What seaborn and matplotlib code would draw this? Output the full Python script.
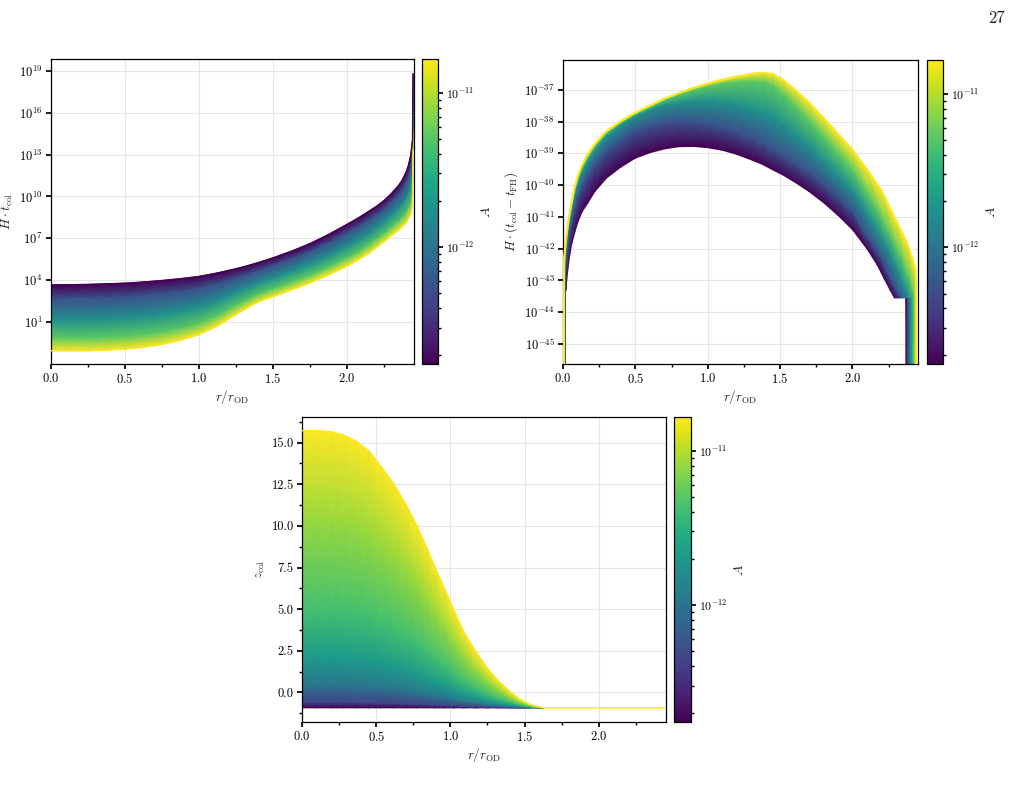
import numpy as np
import matplotlib
matplotlib.use('Agg')
import matplotlib.pyplot as plt
import matplotlib.ticker as mticker
from matplotlib.colors import LogNorm
import seaborn as sns

A_min, A_max = 1.74e-13, 1.66e-11
A_levels = [1.74e-13, 5.43e-13, 1.70e-12, 5.31e-12, 1.66e-11]
A_levels_z = [1.74e-13, 4.33e-13, 1.08e-12, 2.13e-12, 4.23e-12, 8.38e-12, 1.66e-11]
cbar_ticks = [1e-12, 1e-11]

# panel 1: log10(H * t_col) against r / r_OD, one row per A level (small A first)
r_tcol = [0, 0.125, 0.25, 0.375, 0.5, 0.625, 0.75, 0.875, 1.0, 1.125, 1.25, 1.325,
          1.4, 1.5, 1.625, 1.75, 1.875, 2.0, 2.075, 2.15, 2.2, 2.25, 2.3, 2.35,
          2.375, 2.40, 2.415, 2.43, 2.443, 2.447]
log_tcol = [
    [3.67, 3.68, 3.70, 3.74, 3.79, 3.87, 3.98, 4.11, 4.27, 4.52, 4.82, 5.03,
     5.26, 5.60, 6.08, 6.62, 7.27, 8.00, 8.45, 8.95, 9.30, 9.70, 10.20, 10.80,
     11.20, 11.75, 12.20, 12.90, 14.00, 18.80],
    [2.68, 2.69, 2.70, 2.74, 2.80, 2.89, 3.02, 3.18, 3.39, 3.72, 4.13, 4.39,
     4.67, 5.02, 5.50, 6.03, 6.66, 7.37, 7.82, 8.32, 8.68, 9.08, 9.57, 10.13,
     10.50, 10.98, 11.40, 12.02, 13.01, 17.40],
    [1.17, 1.17, 1.18, 1.23, 1.29, 1.39, 1.55, 1.77, 2.06, 2.51, 3.09, 3.42,
     3.77, 4.13, 4.61, 5.13, 5.74, 6.41, 6.86, 7.36, 7.74, 8.14, 8.61, 9.10,
     9.42, 9.82, 10.19, 10.67, 11.51, 16.00],
    [-0.15, -0.15, -0.15, -0.10, -0.03, 0.09, 0.27, 0.54, 0.89, 1.44, 2.17, 2.58,
     2.98, 3.35, 3.83, 4.34, 4.93, 5.57, 6.02, 6.52, 6.91, 7.31, 7.77, 8.21,
     8.49, 8.79, 9.12, 9.50, 10.19, 14.60],
    [-1.05, -1.05, -1.05, -1.00, -0.93, -0.80, -0.60, -0.30, 0.10, 0.72, 1.55, 2.00,
     2.45, 2.82, 3.30, 3.80, 4.38, 5.00, 5.45, 5.95, 6.35, 6.75, 7.20, 7.60,
     7.85, 8.10, 8.40, 8.70, 9.30, 13.30],
]

# panel 2: log10(H * (t_col - t_FH)); each level has its own r samples
r_body = [0.02, 0.03, 0.045, 0.06, 0.08, 0.1, 0.13, 0.17, 0.22, 0.3, 0.4, 0.5, 0.6,
          0.7, 0.8, 0.9, 1.0, 1.1, 1.2, 1.3, 1.38, 1.45, 1.52, 1.6, 1.7, 1.8, 1.9, 2.0]
r_start = [0.015, 0.013, 0.011, 0.009, 0.007]
y_start = [-43.5, -43.2, -42.9, -42.6, -42.3]
log_body = [
    [-43.3, -42.8, -42.25, -41.85, -41.51, -41.2, -40.85, -40.57, -40.2, -39.78,
     -39.43, -39.15, -38.98, -38.86, -38.79, -38.78, -38.82, -38.9, -39.03, -39.2,
     -39.35, -39.52, -39.68, -39.9, -40.2, -40.55, -40.95, -41.4],
    [-42.45, -42.02, -41.51, -41.14, -40.72, -40.40, -40.04, -39.72, -39.36, -38.94,
     -38.59, -38.31, -38.15, -38.04, -38.01, -38.04, -38.09, -38.19, -38.32, -38.50,
     -38.69, -38.89, -39.08, -39.32, -39.61, -39.96, -40.37, -40.82],
    [-41.98, -41.59, -41.10, -40.75, -40.29, -39.97, -39.60, -39.26, -38.90, -38.46,
     -38.11, -37.83, -37.63, -37.47, -37.39, -37.34, -37.35, -37.39, -37.46, -37.58,
     -37.70, -37.86, -38.09, -38.38, -38.77, -39.22, -39.67, -40.15],
    [-41.83, -41.45, -40.97, -40.62, -40.14, -39.82, -39.45, -39.11, -38.76, -38.34,
     -38.02, -37.75, -37.53, -37.31, -37.14, -37.0, -36.88, -36.79, -36.74, -36.72,
     -36.75, -36.86, -37.13, -37.48, -37.96, -38.47, -39.0, -39.52],
    [-41.75, -41.38, -40.9, -40.55, -40.07, -39.75, -39.38, -39.03, -38.7, -38.3,
     -37.98, -37.72, -37.5, -37.28, -37.1, -36.94, -36.8, -36.68, -36.58, -36.5,
     -36.46, -36.5, -36.68, -36.98, -37.4, -37.88, -38.38, -38.89],
]
r_tail = [
    [2.10, 2.17, 2.22, 2.26, 2.29],
    [2.10, 2.20, 2.26, 2.31, 2.34],
    [2.15, 2.25, 2.32, 2.36, 2.39],
    [2.15, 2.25, 2.33, 2.39, 2.42],
    [2.10, 2.20, 2.30, 2.38, 2.435],
]
log_tail = [
    [-42.0, -42.5, -42.95, -43.3, -43.55],
    [-41.6, -42.3, -42.9, -43.35, -43.55],
    [-41.25, -42.05, -42.75, -43.2, -43.55],
    [-40.6, -41.45, -42.2, -42.9, -43.4],
    [-39.5, -40.17, -41.1, -41.85, -42.6],
]
r_drop = [2.369, 2.385, 2.405, 2.425, 2.442]
y_step, y_floor = -43.55, -46.5

# panel 3: z_col against r / r_OD
r_z = [0, 0.1, 0.2, 0.28, 0.37, 0.45, 0.53, 0.62, 0.7, 0.775, 0.84, 0.895, 0.96,
       1.02, 1.09, 1.17, 1.25, 1.32, 1.40, 1.47, 1.54, 1.59, 1.63, 2.45]
z_col = [
    [-0.93] * 24,
    [-0.60, -0.60, -0.60, -0.61, -0.61, -0.62, -0.64, -0.66, -0.69, -0.71, -0.74, -0.76,
     -0.79, -0.81, -0.84, -0.86, -0.88, -0.90, -0.91, -0.92, -0.93, -0.93, -0.93, -0.93],
    [0.50, 0.50, 0.49, 0.48, 0.44, 0.40, 0.32, 0.22, 0.12, 0.01, -0.10, -0.20,
     -0.31, -0.42, -0.54, -0.64, -0.73, -0.79, -0.85, -0.89, -0.91, -0.92, -0.93, -0.93],
    [2.20, 2.20, 2.19, 2.15, 2.07, 1.97, 1.80, 1.60, 1.37, 1.13, 0.88, 0.66,
     0.42, 0.18, -0.07, -0.29, -0.48, -0.62, -0.75, -0.83, -0.89, -0.92, -0.93, -0.93],
    [5.00, 5.00, 4.98, 4.91, 4.76, 4.57, 4.25, 3.86, 3.43, 2.97, 2.50, 2.09,
     1.63, 1.18, 0.70, 0.27, -0.08, -0.34, -0.58, -0.75, -0.86, -0.91, -0.93, -0.93],
    [10.50, 10.50, 10.45, 10.32, 10.04, 9.67, 9.05, 8.29, 7.47, 6.58, 5.68, 4.89,
     4.00, 3.14, 2.21, 1.39, 0.70, 0.20, -0.26, -0.58, -0.79, -0.88, -0.93, -0.93],
    [15.72, 15.72, 15.66, 15.45, 15.06, 14.50, 13.60, 12.50, 11.30, 10.00, 8.70, 7.55,
     6.25, 5.00, 3.65, 2.45, 1.45, 0.72, 0.05, -0.42, -0.73, -0.87, -0.93, -0.93],
]

sns.set_theme(style='ticks')
plt.rcParams.update({
    'font.family': 'serif',
    'font.serif': ['cmr10', 'DejaVu Serif'],
    'mathtext.fontset': 'cm',
    'axes.formatter.use_mathtext': True,
    'axes.edgecolor': 'black',
    'axes.linewidth': 0.9,
    'xtick.color': 'black',
    'ytick.color': 'black',
    'xtick.direction': 'out',
    'ytick.direction': 'out',
    'xtick.major.size': 3.5,
    'ytick.major.size': 3.5,
    'xtick.minor.size': 2,
    'ytick.minor.size': 2,
    'xtick.major.pad': 2.5,
    'ytick.major.pad': 2.5,
    'xtick.labelsize': 9,
    'ytick.labelsize': 9,
    'axes.labelsize': 9.5,
})

cmap = sns.color_palette('viridis', as_cmap=True)
norm = LogNorm(vmin=A_min, vmax=A_max)


def fill_levels(ax, r_rows, y_rows, a_vals, log_values=True):
    X = np.array(r_rows, dtype=float)
    Y = np.array(y_rows, dtype=float)
    if log_values:
        Y = 10.0 ** Y
    C = np.repeat(np.log10(a_vals)[:, None], X.shape[1], axis=1)
    ax.pcolormesh(X, Y, C, shading='gouraud', cmap=cmap,
                  vmin=np.log10(A_min), vmax=np.log10(A_max), zorder=2)


def edge_line(ax, r, y, a, lw):
    sns.lineplot(x=np.asarray(r, float), y=np.asarray(y, float), sort=False,
                 estimator=None, color=cmap(norm(a)), lw=lw, ax=ax, zorder=3)


def style_axes(ax, ylabel):
    ax.set_xlim(0, 2.453)
    ax.xaxis.set_major_locator(mticker.FixedLocator([0.0, 0.5, 1.0, 1.5, 2.0]))
    ax.xaxis.set_minor_locator(mticker.FixedLocator([0.25, 0.75, 1.25, 1.75, 2.25]))
    ax.grid(True, which='major', color='#e6e6e6', lw=0.8)
    ax.set_axisbelow(True)
    ax.set_xlabel(r'$r/r_{\rm OD}$', labelpad=1.5)
    ax.set_ylabel(ylabel, labelpad=3)
    for s in ax.spines.values():
        s.set_visible(True)
        s.set_color('black')


def add_colorbar(fig, rect):
    cax = fig.add_axes(rect)
    sm = plt.cm.ScalarMappable(norm=norm, cmap=cmap)
    cb = fig.colorbar(sm, cax=cax)
    cb.set_ticks(cbar_ticks)
    minors = [m * 10.0 ** e for e in (-13, -12) for m in range(2, 10)]
    minors = [v for v in minors if A_min <= v <= A_max]
    cb.ax.yaxis.set_minor_locator(mticker.FixedLocator(minors))
    cb.ax.yaxis.set_minor_formatter(mticker.NullFormatter())
    cb.set_label('$A$', fontsize=10, labelpad=4)
    cb.ax.tick_params(labelsize=8.5, which='both', direction='out', color='black')
    cb.outline.set_edgecolor('black')
    cb.outline.set_linewidth(0.9)
    return cb


W, H = 1014, 793
fig = plt.figure(figsize=(W / 100, H / 100), dpi=100)


def rect(x0, x1, y0, y1):
    return [x0 / W, 1 - y1 / H, (x1 - x0) / W, (y1 - y0) / H]


# ---- panel 1 ----
ax1 = fig.add_axes(rect(51, 414, 59, 364))
ax1.set_yscale('log')
fill_levels(ax1, [r_tcol] * len(log_tcol), log_tcol, A_levels)
edge_line(ax1, r_tcol, 10.0 ** np.array(log_tcol[0]), A_levels[0], 1.0)
edge_line(ax1, r_tcol, 10.0 ** np.array(log_tcol[-1]), A_levels[-1], 1.0)
style_axes(ax1, r'$H\cdot t_{\rm col}$')
ax1.set_ylim(1e-2, 10 ** 19.85)
ax1.yaxis.set_major_locator(mticker.FixedLocator([10.0 ** k for k in range(1, 20, 3)]))
ax1.yaxis.set_major_formatter(mticker.LogFormatterSciNotation())
ax1.yaxis.set_minor_locator(mticker.NullLocator())
add_colorbar(fig, rect(422, 438, 59, 364))

# ---- panel 2 ----
r_diff, log_diff = [], []
for k in range(len(A_levels)):
    r_diff.append([r_start[k], r_start[k]] + r_body + r_tail[k] + [r_drop[k], r_drop[k]])
    log_diff.append([y_floor, y_start[k]] + log_body[k] + log_tail[k] + [y_step, y_floor])

ax2 = fig.add_axes(rect(563, 918, 60, 364))
ax2.set_yscale('log')
fill_levels(ax2, r_diff, log_diff, A_levels)
edge_line(ax2, r_diff[-1], 10.0 ** np.array(log_diff[-1]), A_levels[-1], 1.5)
style_axes(ax2, r'$H\cdot(t_{\rm col}-t_{\rm FH})$')
ax2.set_ylim(10 ** -45.63, 10 ** -36.06)
ax2.yaxis.set_major_locator(mticker.FixedLocator([10.0 ** k for k in range(-45, -36)]))
ax2.yaxis.set_major_formatter(mticker.LogFormatterSciNotation())
ax2.yaxis.set_minor_locator(mticker.NullLocator())
add_colorbar(fig, rect(927, 943, 60, 364))

# ---- panel 3 ----
ax3 = fig.add_axes(rect(302, 666, 417, 722))
fill_levels(ax3, [r_z] * len(z_col), z_col, A_levels_z, log_values=False)
edge_line(ax3, r_z, z_col[-1], A_levels_z[-1], 1.0)
style_axes(ax3, r'$z_{\rm col}$')
ax3.set_ylim(-1.78, 16.54)
ax3.yaxis.set_major_locator(mticker.FixedLocator([0.0, 2.5, 5.0, 7.5, 10.0, 12.5, 15.0]))
ax3.yaxis.set_minor_locator(mticker.FixedLocator([-1.25, 1.25, 3.75, 6.25, 8.75, 11.25, 13.75, 16.25]))
ax3.yaxis.set_major_formatter(mticker.FormatStrFormatter('%.1f'))
add_colorbar(fig, rect(674, 691, 417, 722))

fig.text(0.991, 0.987, '27', ha='right', va='top', fontsize=12)

fig.savefig('out.png', dpi=100)
plt.close(fig)
